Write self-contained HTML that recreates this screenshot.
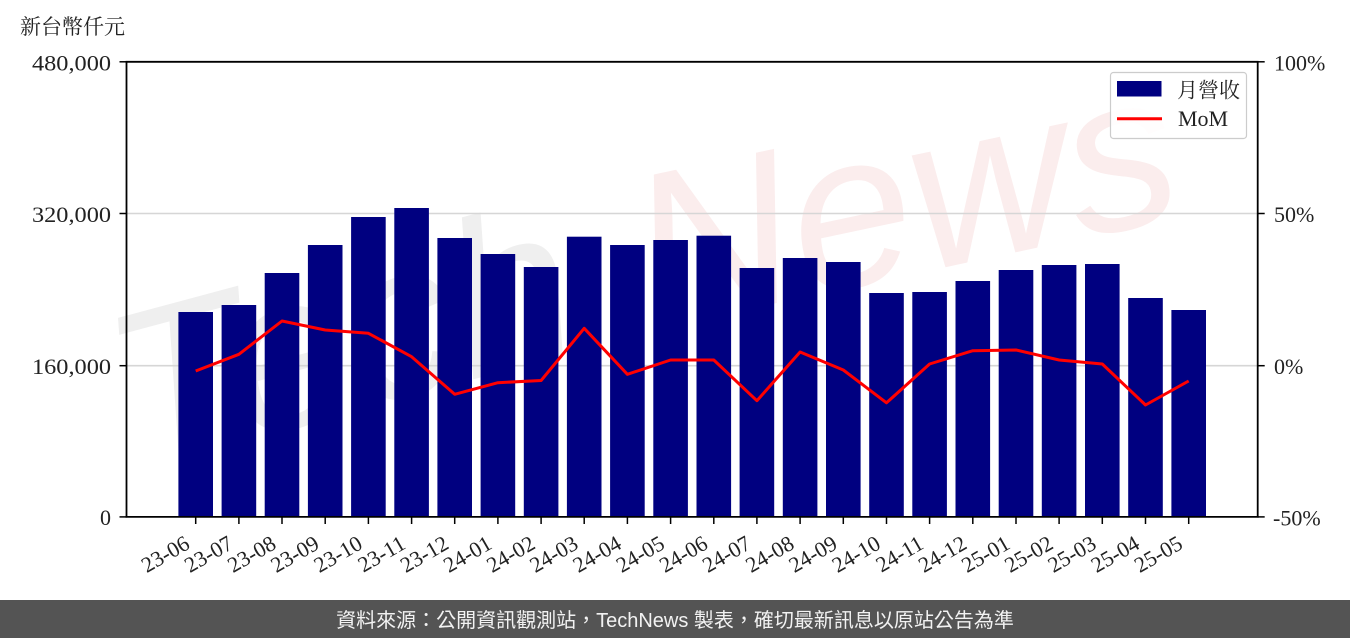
<!DOCTYPE html>
<html>
<head>
<meta charset="utf-8">
<style>
  html,body{margin:0;padding:0;background:#fff;}
  body{width:1350px;height:638px;overflow:hidden;}
  svg{display:block;}
  .tk{font-family:"Liberation Serif","Noto Serif CJK SC",serif;font-size:22px;fill:#222;}
  .cjk{font-family:"Liberation Serif","Noto Serif CJK SC","Noto Sans CJK TC",serif;fill:#222;}
</style>
</head>
<body>
<svg width="1350" height="638" viewBox="0 0 1350 638" xmlns="http://www.w3.org/2000/svg">
  <rect x="0" y="0" width="1350" height="638" fill="#ffffff"/>

  <!-- watermark (faint, behind) -->
  <text x="135" y="470" transform="rotate(-15 135 470)" font-family="Liberation Sans, sans-serif" font-style="italic" font-size="220" fill="#efefef">Tech</text>
  <text x="650" y="330" transform="rotate(-12 650 330)" font-family="Liberation Sans, sans-serif" font-style="italic" font-size="220" fill="#fbeded">News</text>

  <!-- gridlines -->
  <line x1="126.5" y1="213.5" x2="1257.7" y2="213.5" stroke="#d6d6d6" stroke-width="1.6"/>
  <line x1="126.5" y1="365.7" x2="1257.7" y2="365.7" stroke="#d6d6d6" stroke-width="1.6"/>

  <!-- bars -->
  <g fill="#000080">
    <rect x="178.4" y="312" width="34.6" height="204.8"/>
    <rect x="221.6" y="305" width="34.6" height="211.8"/>
    <rect x="264.7" y="273" width="34.6" height="243.8"/>
    <rect x="307.9" y="245" width="34.6" height="271.8"/>
    <rect x="351.1" y="217" width="34.6" height="299.8"/>
    <rect x="394.3" y="208" width="34.6" height="308.8"/>
    <rect x="437.4" y="238" width="34.6" height="278.8"/>
    <rect x="480.6" y="254" width="34.6" height="262.8"/>
    <rect x="523.8" y="267" width="34.6" height="249.8"/>
    <rect x="566.9" y="236.7" width="34.6" height="280.1"/>
    <rect x="610.1" y="245" width="34.6" height="271.8"/>
    <rect x="653.3" y="240" width="34.6" height="276.8"/>
    <rect x="696.5" y="235.7" width="34.6" height="281.1"/>
    <rect x="739.6" y="268" width="34.6" height="248.8"/>
    <rect x="782.8" y="258" width="34.6" height="258.8"/>
    <rect x="826.0" y="262" width="34.6" height="254.8"/>
    <rect x="869.2" y="293" width="34.6" height="223.8"/>
    <rect x="912.3" y="292" width="34.6" height="224.8"/>
    <rect x="955.5" y="281" width="34.6" height="235.8"/>
    <rect x="998.7" y="270" width="34.6" height="246.8"/>
    <rect x="1041.8" y="265" width="34.6" height="251.8"/>
    <rect x="1085.0" y="264" width="34.6" height="252.8"/>
    <rect x="1128.2" y="298" width="34.6" height="218.8"/>
    <rect x="1171.4" y="310" width="34.6" height="206.8"/>
  </g>

  <!-- MoM line -->
  <polyline fill="none" stroke="#ff0000" stroke-width="3" stroke-linejoin="round"
    points="195.7,371 238.9,354.3 282.0,321 325.2,330 368.4,333.3 411.6,356.7 454.7,394.3 497.9,382.7 541.1,380.5 584.2,328.3 627.4,374.3 670.6,360 713.8,360 756.9,400.7 800.1,352 843.3,370 886.5,402.8 929.6,364 972.8,350.7 1016.0,350 1059.1,360 1102.3,364 1145.5,405 1188.7,381"/>

  <!-- spines -->
  <g stroke="#000" stroke-width="1.8" fill="none">
    <line x1="126.5" y1="61.8" x2="126.5" y2="516.9"/>
    <line x1="1257.7" y1="61.8" x2="1257.7" y2="516.9"/>
    <line x1="125.6" y1="61.8" x2="1258.6" y2="61.8"/>
    <line x1="125.6" y1="516.9" x2="1258.6" y2="516.9"/>
  </g>

  <!-- y ticks -->
  <g stroke="#000" stroke-width="1.5">
    <line x1="119.5" y1="61.8" x2="126.5" y2="61.8"/>
    <line x1="119.5" y1="213.5" x2="126.5" y2="213.5"/>
    <line x1="119.5" y1="365.7" x2="126.5" y2="365.7"/>
    <line x1="119.5" y1="516.9" x2="126.5" y2="516.9"/>
    <line x1="1257.7" y1="61.8" x2="1264.7" y2="61.8"/>
    <line x1="1257.7" y1="213.5" x2="1264.7" y2="213.5"/>
    <line x1="1257.7" y1="365.7" x2="1264.7" y2="365.7"/>
    <line x1="1257.7" y1="516.9" x2="1264.7" y2="516.9"/>
  </g>
  <!-- bottom ticks -->
  <g stroke="#000" stroke-width="1.5">
    <line x1="195.7" y1="517" x2="195.7" y2="524"/>
    <line x1="238.9" y1="517" x2="238.9" y2="524"/>
    <line x1="282.0" y1="517" x2="282.0" y2="524"/>
    <line x1="325.2" y1="517" x2="325.2" y2="524"/>
    <line x1="368.4" y1="517" x2="368.4" y2="524"/>
    <line x1="411.6" y1="517" x2="411.6" y2="524"/>
    <line x1="454.7" y1="517" x2="454.7" y2="524"/>
    <line x1="497.9" y1="517" x2="497.9" y2="524"/>
    <line x1="541.1" y1="517" x2="541.1" y2="524"/>
    <line x1="584.2" y1="517" x2="584.2" y2="524"/>
    <line x1="627.4" y1="517" x2="627.4" y2="524"/>
    <line x1="670.6" y1="517" x2="670.6" y2="524"/>
    <line x1="713.8" y1="517" x2="713.8" y2="524"/>
    <line x1="756.9" y1="517" x2="756.9" y2="524"/>
    <line x1="800.1" y1="517" x2="800.1" y2="524"/>
    <line x1="843.3" y1="517" x2="843.3" y2="524"/>
    <line x1="886.5" y1="517" x2="886.5" y2="524"/>
    <line x1="929.6" y1="517" x2="929.6" y2="524"/>
    <line x1="972.8" y1="517" x2="972.8" y2="524"/>
    <line x1="1016.0" y1="517" x2="1016.0" y2="524"/>
    <line x1="1059.1" y1="517" x2="1059.1" y2="524"/>
    <line x1="1102.3" y1="517" x2="1102.3" y2="524"/>
    <line x1="1145.5" y1="517" x2="1145.5" y2="524"/>
    <line x1="1188.7" y1="517" x2="1188.7" y2="524"/>
  </g>

  <!-- y label -->
  <text class="cjk" x="20" y="34" font-size="21">新台幣仟元</text>

  <!-- left tick labels -->
  <g class="tk" text-anchor="end">
    <text x="111" y="70.5" textLength="79" lengthAdjust="spacingAndGlyphs">480,000</text>
    <text x="111" y="222" textLength="79" lengthAdjust="spacingAndGlyphs">320,000</text>
    <text x="111" y="374" textLength="79" lengthAdjust="spacingAndGlyphs">160,000</text>
    <text x="111" y="525">0</text>
  </g>

  <!-- right tick labels -->
  <g class="tk">
    <text x="1274" y="70.5">100%</text>
    <text x="1274" y="222">50%</text>
    <text x="1274" y="374">0%</text>
    <text x="1273" y="525.5">-50%</text>
  </g>

  <!-- x tick labels -->
  <g class="tk" text-anchor="end">
    <text x="191.2" y="547.6" transform="rotate(-30 191.2 547.6)">23-06</text>
    <text x="234.4" y="547.6" transform="rotate(-30 234.4 547.6)">23-07</text>
    <text x="277.5" y="547.6" transform="rotate(-30 277.5 547.6)">23-08</text>
    <text x="320.7" y="547.6" transform="rotate(-30 320.7 547.6)">23-09</text>
    <text x="363.9" y="547.6" transform="rotate(-30 363.9 547.6)">23-10</text>
    <text x="407.1" y="547.6" transform="rotate(-30 407.1 547.6)">23-11</text>
    <text x="450.2" y="547.6" transform="rotate(-30 450.2 547.6)">23-12</text>
    <text x="493.4" y="547.6" transform="rotate(-30 493.4 547.6)">24-01</text>
    <text x="536.6" y="547.6" transform="rotate(-30 536.6 547.6)">24-02</text>
    <text x="579.7" y="547.6" transform="rotate(-30 579.7 547.6)">24-03</text>
    <text x="622.9" y="547.6" transform="rotate(-30 622.9 547.6)">24-04</text>
    <text x="666.1" y="547.6" transform="rotate(-30 666.1 547.6)">24-05</text>
    <text x="709.3" y="547.6" transform="rotate(-30 709.3 547.6)">24-06</text>
    <text x="752.4" y="547.6" transform="rotate(-30 752.4 547.6)">24-07</text>
    <text x="795.6" y="547.6" transform="rotate(-30 795.6 547.6)">24-08</text>
    <text x="838.8" y="547.6" transform="rotate(-30 838.8 547.6)">24-09</text>
    <text x="882.0" y="547.6" transform="rotate(-30 882.0 547.6)">24-10</text>
    <text x="925.1" y="547.6" transform="rotate(-30 925.1 547.6)">24-11</text>
    <text x="968.3" y="547.6" transform="rotate(-30 968.3 547.6)">24-12</text>
    <text x="1011.5" y="547.6" transform="rotate(-30 1011.5 547.6)">25-01</text>
    <text x="1054.6" y="547.6" transform="rotate(-30 1054.6 547.6)">25-02</text>
    <text x="1097.8" y="547.6" transform="rotate(-30 1097.8 547.6)">25-03</text>
    <text x="1141.0" y="547.6" transform="rotate(-30 1141.0 547.6)">25-04</text>
    <text x="1184.2" y="547.6" transform="rotate(-30 1184.2 547.6)">25-05</text>
  </g>

  <!-- legend -->
  <rect x="1110.5" y="72.5" width="136" height="66" rx="3" ry="3" fill="#ffffff" fill-opacity="0.85" stroke="#cccccc" stroke-width="1.2"/>
  <rect x="1117" y="81" width="44.5" height="15.5" fill="#000080"/>
  <text class="cjk" x="1177" y="97.5" font-size="21">月營收</text>
  <line x1="1117" y1="118.7" x2="1162" y2="118.7" stroke="#ff0000" stroke-width="3"/>
  <text class="tk" x="1178" y="126">MoM</text>

  <!-- footer -->
  <rect x="0" y="600" width="1350" height="38" fill="#545454"/>
  <text x="675" y="627" text-anchor="middle" font-family="Liberation Sans, 'Noto Sans CJK TC', sans-serif" font-size="20" fill="#f2f2f2">資料來源：公開資訊觀測站，TechNews 製表，確切最新訊息以原站公告為準</text>
</svg>
</body>
</html>
